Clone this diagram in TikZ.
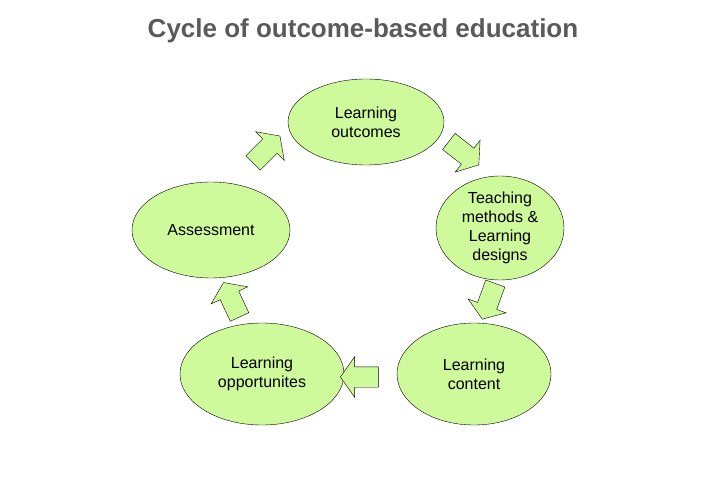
\documentclass[tikz,border=0pt]{standalone}
\usepackage{fontspec}
\setmainfont{Liberation Sans}
\usepackage{tikz}
\usetikzlibrary{shapes.geometric}
\usetikzlibrary{shapes.arrows}
\definecolor{stagegreen}{RGB}{206,250,156}
\definecolor{titlegray}{RGB}{90,90,90}

\begin{document}
\begin{tikzpicture}[x=1pt, y=1pt,
    stage/.style={draw, thin, ellipse, fill=stagegreen, inner sep=0pt, align=center,
        font=\fontsize{16}{19}\selectfont},
    cyclearrow/.style={draw, thin, single arrow, fill=stagegreen, inner xsep=0pt, inner ysep=10pt,
        minimum height=38pt, single arrow head extend=10pt,
        single arrow tip angle=110}]
    \useasboundingbox (0,0) rectangle (727,482);

    \node [font=\bfseries\fontsize{26}{30}\selectfont, text=titlegray] (title) at (363,451) {Cycle of outcome-based education};

    % stages
    \node [stage, minimum width=156pt, minimum height=86pt] (lo) at (366,360) {Learning\\outcomes};
    \node [stage, minimum width=128pt, minimum height=104pt] (tm) at (500,254) {Teaching\\methods \&\\Learning\\designs};
    \node [stage, minimum width=154pt, minimum height=102pt] (lc) at (474,108) {Learning\\content};
    \node [stage, minimum width=164pt, minimum height=102pt] (lp) at (262,108) {Learning\\opportunites};
    \node [stage, minimum width=158pt, minimum height=96pt] (as) at (211,252) {Assessment};

    % arrows
    \node [cyclearrow, rotate=45] (a1) at (264,330) {};
    \node [cyclearrow, rotate=-38] (a2) at (461,331) {};
    \node [cyclearrow, rotate=250] (a3) at (490,184) {};
    \node [cyclearrow, rotate=180] (a4) at (363,105) {};
    \node [cyclearrow, rotate=115] (a5) at (233,179) {};
\end{tikzpicture}
\end{document}
